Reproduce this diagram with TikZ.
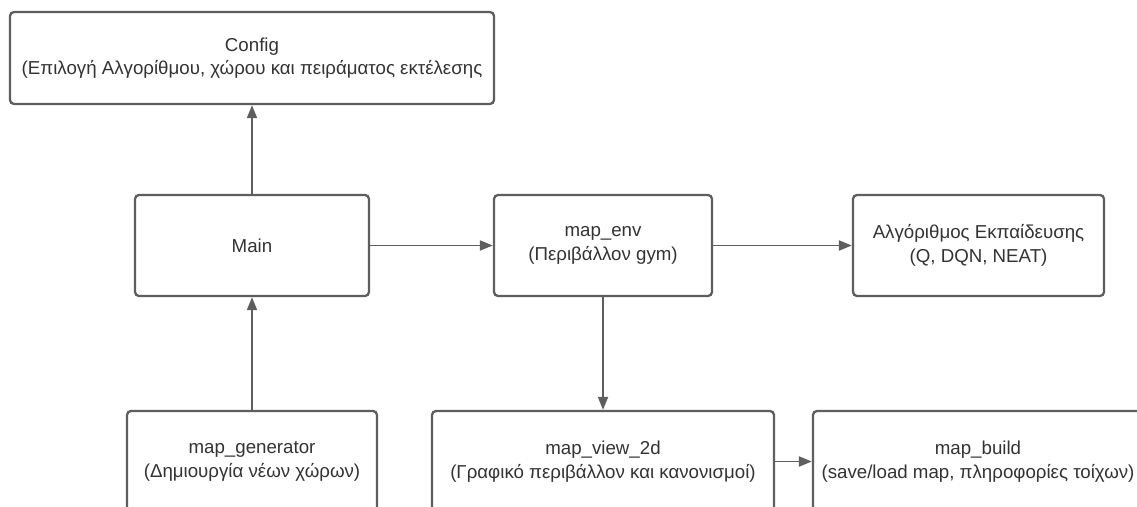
\documentclass[tikz,border=0pt]{standalone}
\usepackage{fontspec}
\setmainfont{Liberation Sans}
\usetikzlibrary{arrows.meta}
\definecolor{edge}{HTML}{5E5E5E}
\definecolor{ink}{HTML}{333333}
\begin{document}
\begin{tikzpicture}[x=1pt,y=-1pt,
  block/.style={draw=edge, line width=2.3pt, rounded corners=4pt, fill=white,
    inner sep=0pt, align=center, text=ink, font=\fontsize{18.7}{23.5}\selectfont},
  link/.style={draw=edge, line width=1.9pt, -{Triangle[length=13pt,width=10pt]}}]
  \clip (0,0) rectangle (1137,506);
  \fill[white] (0,0) rectangle (1137,506);

  % upper row
  \node[block, minimum width=484pt, minimum height=92pt] (config) at (252,58)
    {Config\\(Επιλογή Αλγορίθμου, χώρου και πειράματος εκτέλεσης};
  \node[block, minimum width=234pt, minimum height=101pt] (main) at (252,245.5) {Main};
  \node[block, minimum width=218pt, minimum height=101pt] (env) at (603,245.5)
    {map\_env\\(Περιβάλλον gym)};
  \node[block, minimum width=251pt, minimum height=101pt] (algo) at (978.5,245.5)
    {Αλγόριθμος Εκπαίδευσης\\(Q, DQN, NEAT)};

  % lower row
  \node[block, minimum width=250pt, minimum height=101pt] (gen) at (252,461.5)
    {map\_generator\\(Δημιουργία νέων χώρων)};
  \node[block, minimum width=342pt, minimum height=101pt] (view) at (603,461.5)
    {map\_view\_2d\\(Γραφικό περιβάλλον και κανονισμοί)};
  \node[block, minimum width=330pt, minimum height=101pt] (build) at (978,461.5)
    {map\_build\\(save/load map, πληροφορίες τοίχων)};

  % connectors
  \draw[link] (main) -- (config);
  \draw[link] (main) -- (env);
  \draw[link] (env) -- (algo);
  \draw[link] (env) -- (view);
  \draw[link] (gen) -- (main);
  \draw[link] (view) -- (build);
\end{tikzpicture}
\end{document}
